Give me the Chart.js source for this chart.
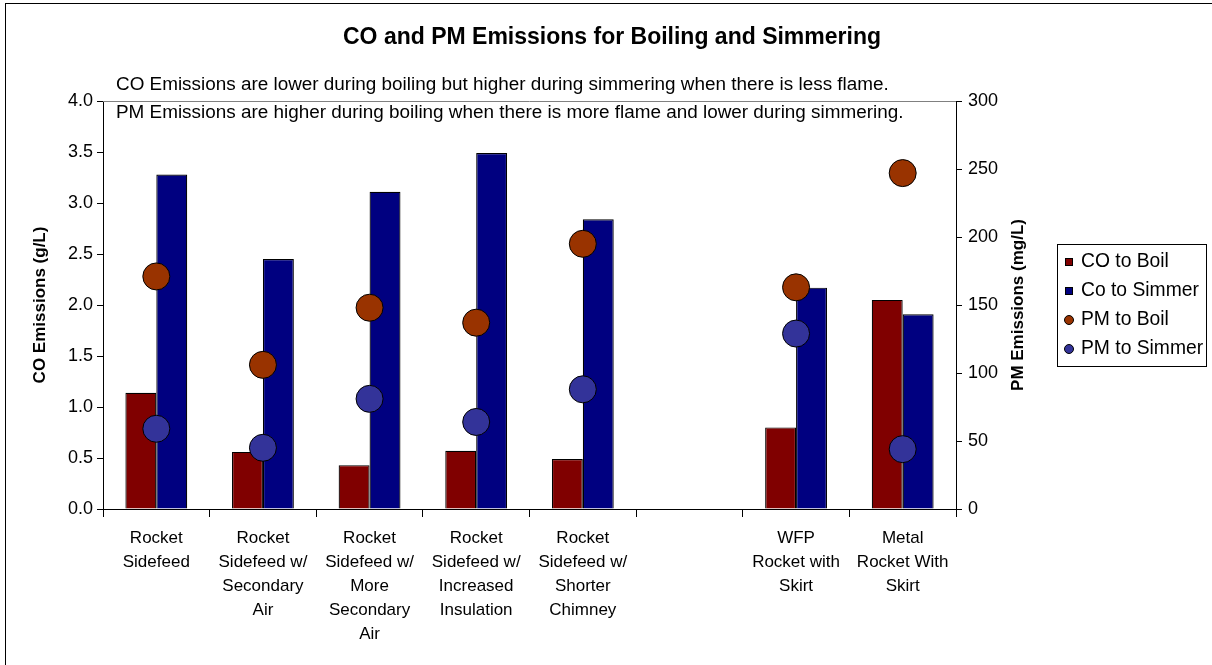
<!DOCTYPE html>
<html>
<head>
<meta charset="utf-8">
<script src="https://cdn.jsdelivr.net/npm/chart.js@4/dist/chart.umd.min.js"></script>
<style>
  html, body { margin: 0; padding: 0; background: #fff; }
  #wrap { width: 1212px; height: 665px; position: relative; }
</style>
</head>
<body>
<div id="wrap"><canvas id="myChart"></canvas></div>
<script>
// chart data
const categories = [
  ['Rocket', 'Sidefeed'],
  ['Rocket', 'Sidefeed w/', 'Secondary', 'Air'],
  ['Rocket', 'Sidefeed w/', 'More', 'Secondary', 'Air'],
  ['Rocket', 'Sidefeed w/', 'Increased', 'Insulation'],
  ['Rocket', 'Sidefeed w/', 'Shorter', 'Chimney'],
  '',
  ['WFP', 'Rocket with', 'Skirt'],
  ['Metal', 'Rocket With', 'Skirt']
];
const coBoil = [1.14, 0.56, 0.43, 0.57, 0.49, null, 0.80, 2.05];
const coSimmer = [3.28, 2.45, 3.11, 3.49, 2.84, null, 2.17, 1.91];
const pmBoil = [171, 106, 148, 137, 195, null, 163, 247];
const pmSimmer = [59, 45, 81, 64, 88, null, 129, 44];
const coTicks = [0, 0.5, 1.0, 1.5, 2.0, 2.5, 3.0, 3.5, 4.0];
const pmTicks = [0, 50, 100, 150, 200, 250, 300];

const titleText = 'CO and PM Emissions for Boiling and Simmering';
const noteLines = [
  'CO Emissions are lower during boiling but higher during simmering when there is less flame.',
  'PM Emissions are higher during boiling when there is more flame and lower during simmering.'
];

const FONT = '"Liberation Sans", Arial, sans-serif';

const data = {
  labels: categories,
  datasets: [
    { type: 'bar', label: 'CO to Boil', data: coBoil, yAxisID: 'y',
      backgroundColor: '#800000', borderColor: '#000', borderWidth: 1.2, order: 1,
      categoryPercentage: 0.58, barPercentage: 1 },
    { type: 'bar', label: 'Co to Simmer', data: coSimmer, yAxisID: 'y',
      backgroundColor: '#000080', borderColor: '#000', borderWidth: 1.2, order: 1,
      categoryPercentage: 0.58, barPercentage: 1 },
    { type: 'line', label: 'PM to Boil', data: pmBoil, yAxisID: 'y2', showLine: false,
      pointRadius: 13.5, pointBackgroundColor: '#993300', pointBorderColor: '#000',
      pointBorderWidth: 1, order: 0 },
    { type: 'line', label: 'PM to Simmer', data: pmSimmer, yAxisID: 'y2', showLine: false,
      pointRadius: 13.5, pointBackgroundColor: '#333399', pointBorderColor: '#000',
      pointBorderWidth: 1, order: 0 }
  ]
};

// draws the frame, title, notes, axis titles and the boxed legend
const decorPlugin = {
  id: 'decor',
  beforeDraw(chart) {
    const ctx = chart.ctx;
    ctx.save();
    ctx.fillStyle = '#fff';
    ctx.fillRect(0, 0, chart.width, chart.height);
    ctx.restore();
  },
  afterDraw(chart) {
    const ctx = chart.ctx;
    const area = chart.chartArea;
    ctx.save();
    // outer frame
    ctx.strokeStyle = '#000';
    ctx.lineWidth = 1;
    ctx.strokeRect(5.5, 3.5, 1212, 680);
    // gray top line of plot area
    ctx.strokeStyle = '#808080';
    ctx.beginPath();
    ctx.moveTo(area.left, Math.round(area.top) + 0.5);
    ctx.lineTo(area.right, Math.round(area.top) + 0.5);
    ctx.stroke();

    ctx.fillStyle = '#000';
    ctx.textBaseline = 'middle';
    ctx.textAlign = 'center';
    ctx.font = 'bold 23px ' + FONT;
    ctx.fillText(titleText, 612, 38);

    ctx.textAlign = 'left';
    ctx.font = '18.9px ' + FONT;
    ctx.fillText(noteLines[0], 116, 85);
    ctx.fillText(noteLines[1], 116, 113);

    // axis titles
    ctx.font = 'bold 17px ' + FONT;
    ctx.textAlign = 'center';
    ctx.save();
    ctx.translate(40, 305);
    ctx.rotate(-Math.PI / 2);
    ctx.fillText('CO Emissions (g/L)', 0, 0);
    ctx.restore();
    ctx.save();
    ctx.translate(1018, 305);
    ctx.rotate(-Math.PI / 2);
    ctx.fillText('PM Emissions (mg/L)', 0, 0);
    ctx.restore();

    // legend
    ctx.strokeStyle = '#000';
    ctx.strokeRect(1057.5, 244.5, 149, 122);
    ctx.font = '19.3px ' + FONT;
    ctx.textAlign = 'left';
    const rows = [262, 291, 320, 349];
    chart.data.datasets.forEach((ds, i) => {
      const y = rows[i];
      if (ds.type === 'bar') {
        ctx.fillStyle = ds.backgroundColor;
        ctx.fillRect(1065, y - 4, 8, 8);
        ctx.strokeRect(1065.5, y - 3.5, 7, 7);
      } else {
        ctx.fillStyle = ds.pointBackgroundColor;
        ctx.beginPath();
        ctx.arc(1069, y, 4.5, 0, Math.PI * 2);
        ctx.fill();
        ctx.stroke();
      }
      ctx.fillStyle = '#000';
      ctx.fillText(ds.label, 1081, y);
    });
    ctx.restore();
  }
};

const config = {
  data: data,
  plugins: [decorPlugin],
  options: {
    responsive: false,
    animation: false,
    events: [],
    layout: { padding: { top: 101, left: 0, right: 0, bottom: 0 } },
    plugins: { legend: { display: false }, title: { display: false }, tooltip: { enabled: false } },
    scales: {
      x: {
        type: 'category',
        offset: true,
        grid: { offset: true, drawOnChartArea: false, color: '#000', tickLength: 8, lineWidth: 1 },
        border: { display: true, color: '#000', width: 1 },
        ticks: { color: '#000', font: { family: FONT, size: 17, lineHeight: 1.42 }, maxRotation: 0,
                 minRotation: 0, autoSkip: false, padding: 9 },
        afterFit(scale) { scale.height = 156; }
      },
      y: {
        position: 'left',
        min: 0, max: 4,
        afterBuildTicks(scale) { scale.ticks = coTicks.map(v => ({ value: v })); },
        grid: { drawOnChartArea: false, color: '#000', tickLength: 6 },
        border: { display: true, color: '#000', width: 1 },
        ticks: { color: '#000', font: { family: FONT, size: 18 }, padding: 4,
                 callback: v => v.toFixed(1) },
        afterFit(scale) { scale.width = 103; }
      },
      y2: {
        position: 'right',
        min: 0, max: 300,
        afterBuildTicks(scale) { scale.ticks = pmTicks.map(v => ({ value: v })); },
        grid: { drawOnChartArea: false, color: '#000', tickLength: 6 },
        border: { display: true, color: '#000', width: 1 },
        ticks: { color: '#000', font: { family: FONT, size: 18 }, padding: 6 },
        afterFit(scale) { scale.width = 256; }
      }
    }
  }
};

const canvas = document.getElementById('myChart');
canvas.width = 1212;
canvas.height = 665;
const myChart = new Chart(canvas, config);
</script>
</body>
</html>
